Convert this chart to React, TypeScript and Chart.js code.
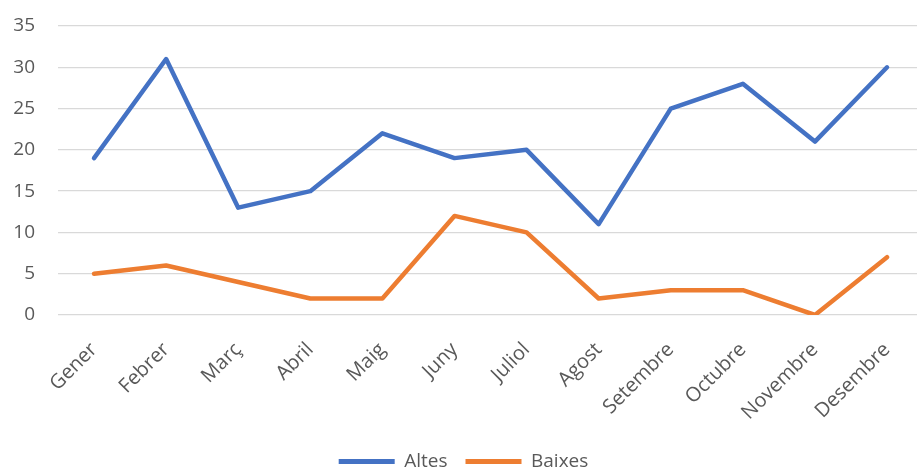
import React, { useEffect, useRef } from "react";
import { Chart, registerables } from "chart.js";

Chart.register(...registerables);

const months = ["Gener", "Febrer", "Març", "Abril", "Maig", "Juny", "Juliol", "Agost", "Setembre", "Octubre", "Novembre", "Desembre"];
const altes = [19, 31, 13, 15, 22, 19, 20, 11, 25, 28, 21, 30];
const baixes = [5, 6, 4, 2, 2, 12, 10, 2, 3, 3, 0, 7];
const seriesNames = ["Altes", "Baixes"];
const blue = "#4472C4";
const orange = "#ED7D31";
const textColor = "#595959";
const fontFamily = "'Open Sans', sans-serif";

export default function App() {
  const ref = useRef<HTMLCanvasElement | null>(null);
  useEffect(() => {
    if (!ref.current) return;
    const chart = new Chart(ref.current, {
      type: "line",
      data: {
        labels: months,
        datasets: [
          { label: seriesNames[0], data: altes, borderColor: blue, backgroundColor: blue, borderWidth: 4.5, pointRadius: 0, tension: 0, borderJoinStyle: "round", borderCapStyle: "round" },
          { label: seriesNames[1], data: baixes, borderColor: orange, backgroundColor: orange, borderWidth: 4.5, pointRadius: 0, tension: 0, borderJoinStyle: "round", borderCapStyle: "round" },
        ],
      },
      options: {
        animation: false,
        responsive: false,
        maintainAspectRatio: false,
        layout: { padding: { left: 0, top: 26, right: 0, bottom: -8 } },
        plugins: {
          tooltip: { enabled: false },
          legend: {
            position: "bottom",
            labels: {
              color: textColor,
              font: { family: fontFamily, size: 19 },
              boxWidth: 56,
              boxHeight: 5,
              padding: 18,
              generateLabels: (c: any) =>
                c.data.datasets.map((d: any, i: number) => ({
                  text: d.label,
                  fillStyle: d.borderColor,
                  strokeStyle: d.borderColor,
                  lineWidth: 0,
                  hidden: false,
                  datasetIndex: i,
                  fontColor: textColor,
                })),
            },
          },
        },
        scales: {
          x: {
            offset: true,
            grid: { display: false, drawTicks: false },
            border: { display: false },
            ticks: {
              color: textColor,
              font: { family: fontFamily, size: 20 },
              minRotation: 45,
              maxRotation: 45,
              padding: 23,
              autoSkip: false,
            },
            afterFit: (s: any) => {
              s.height = 119;
            },
          },
          y: {
            min: 0,
            max: 35,
            grid: { color: "#D9D9D9", lineWidth: 1.3, drawTicks: false },
            border: { display: false },
            ticks: {
              stepSize: 5,
              color: textColor,
              font: { family: fontFamily, size: 19 },
              padding: 23,
            },
            afterFit: (s: any) => {
              s.width = 58;
              s.paddingTop = 0;
              s.paddingBottom = 0;
            },
          },
        },
      },
    });
    return () => chart.destroy();
  }, []);
  return (
    <div style={{ position: "fixed", left: 0, top: 0, width: 917, height: 473, overflow: "hidden", background: "#fff" }}>
      <canvas ref={ref} width={927} height={473} style={{ display: "block", width: 927, height: 473 }} />
    </div>
  );
}
